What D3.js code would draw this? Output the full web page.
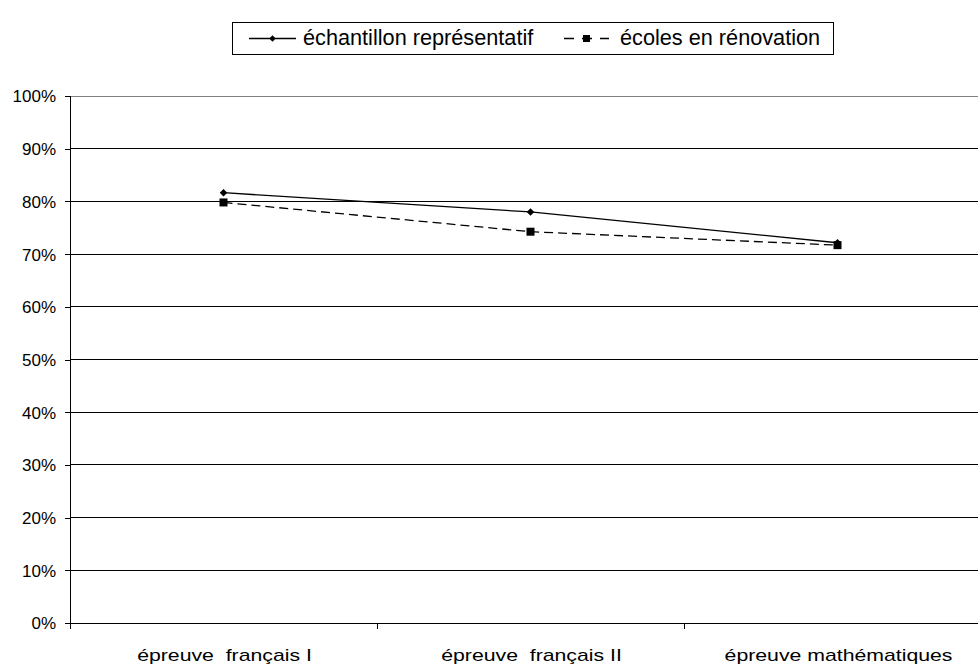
<!DOCTYPE html>
<html><head><meta charset="utf-8">
<script src="https://cdn.jsdelivr.net/npm/d3@7"></script>
<style>body{margin:0;background:#fff}svg{display:block;font-family:"Liberation Sans",Arial,sans-serif}</style>
</head><body>
<svg id="c" width="978" height="664"></svg>
<script>
const categories = ["épreuve\u00a0 français I", "épreuve\u00a0 français II", "épreuve mathématiques"];
const seriesNames = ["échantillon représentatif", "écoles en rénovation"];
const echantillon = [0.8165, 0.780, 0.7215];
const renovation = [0.798, 0.7425, 0.717];
const yTicks = [0,0.1,0.2,0.3,0.4,0.5,0.6,0.7,0.8,0.9,1.0];

const svg = d3.select("#c");
const pLeft = 70, pRight = 991, pTop = 96, pBottom = 623;
const x = d3.scaleBand().domain(categories).range([pLeft, pRight]);
const y = d3.scaleLinear().domain([0,1]).range([pBottom, pTop]);

// gridlines
svg.append("g").selectAll("line").data(yTicks.filter(d=>d>0)).join("line")
  .attr("x1", pLeft).attr("x2", pRight).attr("y1", d=>y(d)).attr("y2", d=>y(d))
  .attr("stroke", d=>d===1?"#808080":"#000").attr("stroke-width",1).attr("shape-rendering","crispEdges");

// y axis
const ya = svg.append("g").attr("transform",`translate(${pLeft},0)`)
  .call(d3.axisLeft(y).tickValues(yTicks).tickFormat(d3.format(".0%")).tickSizeOuter(0).tickSize(5));
ya.select(".domain").attr("stroke","#000").attr("shape-rendering","crispEdges");
ya.selectAll(".tick line").attr("stroke","#000").attr("shape-rendering","crispEdges");
ya.selectAll("text").attr("font-size",17).attr("fill","#000").attr("x",-14).attr("dy","0.35em")
  .attr("font-family","Liberation Sans, Arial, sans-serif");

// x axis
const xa = svg.append("g").attr("transform",`translate(0,${pBottom})`)
  .call(d3.axisBottom(x).tickSize(0).tickSizeOuter(0));
xa.select(".domain").attr("stroke","#000").attr("shape-rendering","crispEdges");
xa.selectAll("text").attr("font-size",17).attr("fill","#000").attr("y",0).attr("dy",0)
  .attr("transform","translate(1,38) scale(1.25,1)")
  .attr("font-family","Liberation Sans, Arial, sans-serif");
// category boundary ticks
const bounds = categories.map(c=>x(c)).concat([x(categories[2])+x.bandwidth()]);
svg.append("g").selectAll("line").data(bounds).join("line")
  .attr("x1",d=>d).attr("x2",d=>d).attr("y1",pBottom).attr("y2",pBottom+6)
  .attr("stroke","#000").attr("shape-rendering","crispEdges");

const cx = d => x(d) + x.bandwidth()/2;
const line = d3.line().x((d,i)=>cx(categories[i])).y(d=>y(d));

svg.append("path").datum(echantillon).attr("d",line).attr("fill","none").attr("stroke","#000").attr("stroke-width",1.3);
svg.append("path").datum(renovation).attr("d",line).attr("fill","none").attr("stroke","#000").attr("stroke-width",1.3).attr("stroke-dasharray","9,5");

const diamond = d3.symbol().type(d3.symbolDiamond2).size(36);
svg.append("g").selectAll("path").data(echantillon).join("path")
  .attr("d",diamond).attr("transform",(d,i)=>`translate(${cx(categories[i])},${y(d)})`).attr("fill","#000");
svg.append("g").selectAll("rect").data(renovation).join("rect")
  .attr("x",(d,i)=>cx(categories[i])-4).attr("y",d=>y(d)-4).attr("width",8).attr("height",8).attr("fill","#000");

// legend
const lg = svg.append("g");
lg.append("rect").attr("x",232.5).attr("y",22.5).attr("width",601).attr("height",32)
  .attr("fill","#fff").attr("stroke","#000").attr("stroke-width",1);
lg.append("line").attr("x1",249).attr("x2",296).attr("y1",38.5).attr("y2",38.5).attr("stroke","#000").attr("stroke-width",1.3);
lg.append("path").attr("d",d3.symbol().type(d3.symbolDiamond2).size(26)).attr("transform","translate(272.5,38.5)").attr("fill","#000");
lg.append("text").attr("x",303).attr("y",45).attr("font-size",21.7).text(seriesNames[0]);
lg.append("line").attr("x1",564).attr("x2",609).attr("y1",38.5).attr("y2",38.5).attr("stroke","#000").attr("stroke-width",1.3).attr("stroke-dasharray","10,8");
lg.append("rect").attr("x",583).attr("y",35).attr("width",7).attr("height",7).attr("fill","#000");
lg.append("text").attr("x",620).attr("y",45).attr("font-size",21.7).text(seriesNames[1]);
</script>
</body></html>
